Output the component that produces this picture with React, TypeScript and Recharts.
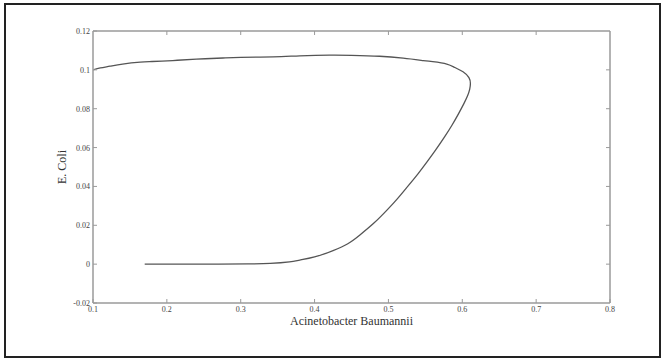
import React from 'react';
import { LineChart, Line, XAxis, YAxis } from 'recharts';

// phase-plane trajectory, in the order it is traced
const acinetobacter = [
  0.17, 0.22, 0.27, 0.31, 0.34, 0.366, 0.38, 0.4, 0.425, 0.445, 0.461, 0.48, 0.498, 0.512,
  0.525, 0.54, 0.552, 0.564, 0.576, 0.586, 0.595, 0.602, 0.607, 0.61, 0.611, 0.609, 0.601,
  0.59, 0.579, 0.56, 0.547, 0.52, 0.488, 0.45, 0.42, 0.38, 0.344, 0.3, 0.276, 0.24, 0.208,
  0.18, 0.164, 0.14, 0.123, 0.11, 0.1,
];
const eColi = [
  0, 0, 0, 0.0001, 0.0004, 0.0012, 0.0021, 0.0037, 0.007, 0.0105, 0.0149, 0.021, 0.0278, 0.0336,
  0.0395, 0.0465, 0.0525, 0.0588, 0.0655, 0.0715, 0.0775, 0.0825, 0.0865, 0.09, 0.093, 0.096, 0.099,
  0.1012, 0.103, 0.1042, 0.1048, 0.106, 0.107, 0.1075, 0.1076, 0.1072, 0.1067, 0.1064, 0.1061,
  0.1055, 0.1048, 0.1043, 0.104, 0.103, 0.1019, 0.101, 0.1,
];

const xTicks = [0.1, 0.2, 0.3, 0.4, 0.5, 0.6, 0.7, 0.8];
const yTicks = [-0.02, 0, 0.02, 0.04, 0.06, 0.08, 0.1, 0.12];

const data = acinetobacter.map((x, i) => ({ x, y: eColi[i] }));

const FONT = '"Liberation Serif", "DejaVu Serif", serif';
const AXIS = '#9a9a9a';
const LABEL = '#444';
const M = 3; // tick margin
const TL = 4; // inward tick length

const BottomTick = (p: any) => {
  const ay = p.y - M;
  return (
    <g>
      <line x1={p.x} y1={ay} x2={p.x} y2={ay - TL} stroke={AXIS} strokeWidth={1} />
      <text x={p.x} y={p.y} dy={6} textAnchor="middle" fontSize={8} fontFamily={FONT} fill={LABEL}>
        {p.payload.value}
      </text>
    </g>
  );
};

const LeftTick = (p: any) => {
  const ax = p.x + M;
  return (
    <g>
      <line x1={ax} y1={p.y} x2={ax + TL} y2={p.y} stroke={AXIS} strokeWidth={1} />
      <text x={p.x} y={p.y} dy={3} textAnchor="end" fontSize={8} fontFamily={FONT} fill={LABEL}>
        {p.payload.value}
      </text>
    </g>
  );
};

const TopTick = (p: any) => {
  const ay = p.y + M;
  return <line x1={p.x} y1={ay} x2={p.x} y2={ay + TL} stroke={AXIS} strokeWidth={1} />;
};

const RightTick = (p: any) => {
  const ax = p.x - M;
  return <line x1={ax} y1={p.y} x2={ax - TL} y2={p.y} stroke={AXIS} strokeWidth={1} />;
};

export default function App() {
  return (
    <div style={{ position: 'relative', width: 664, height: 363, background: '#fff' }}>
      <style>{'body{margin:0}'}</style>
      <LineChart
        width={664}
        height={363}
        data={data}
        margin={{ top: 30, right: 53, bottom: 40, left: 53 }}
      >
        <XAxis
          dataKey="x"
          type="number"
          domain={[0.1, 0.8]}
          ticks={xTicks}
          height={20}
          tickSize={0}
          tickMargin={M}
          tick={BottomTick}
          axisLine={{ stroke: AXIS, strokeWidth: 1.5 }}
          tickLine={false}
          allowDataOverflow
          label={{ value: 'Acinetobacter Baumannii', position: 'bottom', offset: -7, fontSize: 12, fontFamily: FONT, fill: '#333' }}
        />
        <XAxis
          xAxisId="top"
          dataKey="x"
          orientation="top"
          type="number"
          domain={[0.1, 0.8]}
          ticks={xTicks.slice(1, -1)}
          height={1}
          tickSize={0}
          tickMargin={M}
          tick={TopTick}
          axisLine={{ stroke: AXIS, strokeWidth: 1.5 }}
          tickLine={false}
          allowDataOverflow
        />
        <YAxis
          type="number"
          domain={[-0.02, 0.12]}
          ticks={yTicks}
          width={40}
          tickSize={0}
          tickMargin={M}
          tick={LeftTick}
          axisLine={{ stroke: AXIS, strokeWidth: 1.5 }}
          tickLine={false}
          allowDataOverflow
          label={{ value: 'E. Coli', angle: -90, position: 'insideLeft', offset: 9, fontSize: 12, fontFamily: FONT, fill: '#333', style: { textAnchor: 'middle' } }}
        />
        <YAxis
          yAxisId="right"
          orientation="right"
          type="number"
          domain={[-0.02, 0.12]}
          ticks={yTicks.slice(1, -1)}
          width={1}
          tickSize={0}
          tickMargin={M}
          tick={RightTick}
          axisLine={{ stroke: AXIS, strokeWidth: 1.5 }}
          tickLine={false}
          allowDataOverflow
        />
        <Line
          dataKey="y"
          type="natural"
          stroke="#555"
          strokeWidth={1.3}
          dot={false}
          isAnimationActive={false}
        />
        {/* invisible copy so the mirrored top/right axes are drawn */}
        <Line
          xAxisId="top"
          yAxisId="right"
          dataKey="y"
          type="natural"
          stroke="none"
          strokeOpacity={0}
          dot={false}
          activeDot={false}
          isAnimationActive={false}
        />
      </LineChart>
      <div
        style={{
          position: 'absolute',
          left: 4,
          top: 3,
          width: 657,
          height: 355,
          border: '2px solid #222',
          boxSizing: 'border-box',
          pointerEvents: 'none',
        }}
      />
    </div>
  );
}
